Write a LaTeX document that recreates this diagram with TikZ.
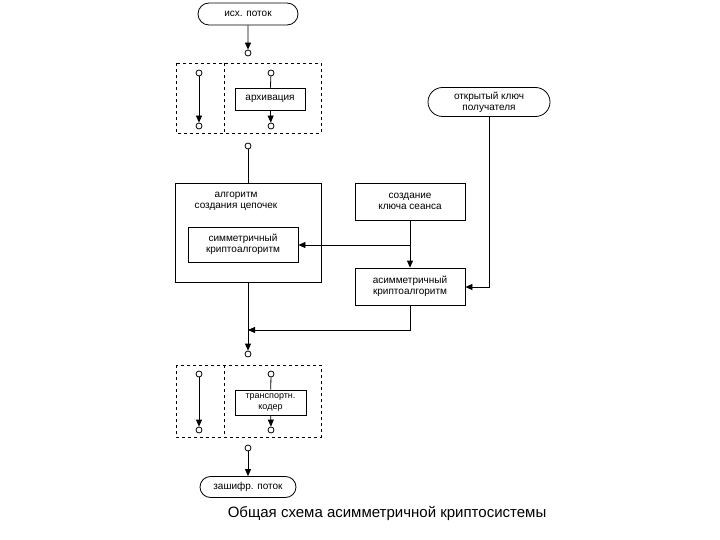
\documentclass[tikz,border=0pt]{standalone}
\usepackage{fontspec}
\setmainfont{Liberation Sans}
\usetikzlibrary{arrows.meta,shapes.misc}
\begin{document}
\begin{tikzpicture}[x=1pt,y=-1pt,
  every node/.style={font=\fontsize{10}{11}\selectfont,align=center},
  box/.style={draw,thick,inner sep=0,minimum width=#1},
  term/.style={draw,rounded rectangle,inner sep=0},
  port/.style={draw,circle,inner sep=0,minimum size=6pt,fill=white},
  dbox/.style={draw,dashed,thick},
  ar/.style={-{Triangle[length=7pt,width=6pt]}},
  thick]
\useasboundingbox (0,0) rectangle (720,540);
% top
\node[term,minimum width=100,minimum height=22] (src) at (248,14) {исх. поток};
\node[port] (p1) at (248,53) {};
\draw[ar] (src) -- (p1);
% first dashed box
\draw[dbox] (176,63) rectangle (321,133);
\draw[dbox] (224,63) -- (224,133);
\node[port] (l1a) at (199,73) {};
\node[port] (l1b) at (199,126) {};
\draw[ar] (l1a) -- (l1b);
\node[port] (r1a) at (271,73) {};
\node[port] (r1b) at (271,126) {};
\node[box=70pt,minimum height=22] (arch) at (270,99) {архивация};
\draw (r1a) -- (arch);
\draw[ar] (arch) -- (r1b);
\node[port] (p2) at (248,146) {};
% algorithm box
\node[draw,thick,minimum width=146,minimum height=99,inner sep=0] (alg) at (248,232.5) {};
\node (algt) at (236,201) {алгоритм\\создания цепочек};
\node[box=110pt,minimum height=35] (sym) at (243,244.5) {симметричный\\криптоалгоритм};
\draw (p2) -- (alg.north);
% key
\node[term,minimum width=122,minimum height=29] (pub) at (489,102) {открытый ключ\\получателя};
\node[box=110pt,minimum height=37] (sess) at (410,201.5) {создание\\ключа сеанса};
\node[box=110pt,minimum height=37] (asym) at (410,286.5) {асимметричный\\криптоалгоритм};
\coordinate (br) at (410,245);
\draw[ar] (sess) -- (asym);
\draw[ar] (br) -- (sym.east |- br);
\draw[ar] (pub) |- (asym.east |- 0,287);
% merge
\node[port] (p3) at (248,354) {};
\draw[ar] (alg.south) -- (p3);
\coordinate (m) at (248,330);
\draw[ar] (asym.south) |- (m);
% second dashed box
\draw[dbox] (176,365) rectangle (321,437);
\draw[dbox] (224,365) -- (224,437);
\node[port] (l2a) at (199,374) {};
\node[port] (l2b) at (199,430) {};
\draw[ar] (l2a) -- (l2b);
\node[port] (r2a) at (271,374) {};
\node[port] (r2b) at (271,430) {};
\node[box=71pt,minimum height=25,font=\fontsize{9}{11}\selectfont] (tr) at (270.5,402.5) {транспортн.\\кодер};
\draw (r2a) -- (tr);
\draw[ar] (tr) -- (r2b);
\node[port] (p4) at (248,448) {};
\node[term,minimum width=96,minimum height=21] (dst) at (248,487) {зашифр. поток};
\draw[ar] (p4) -- (dst);
\node[font=\fontsize{15}{17}\selectfont] (cap) at (387,513) {Общая схема асимметричной криптосистемы};
\end{tikzpicture}
\end{document}
